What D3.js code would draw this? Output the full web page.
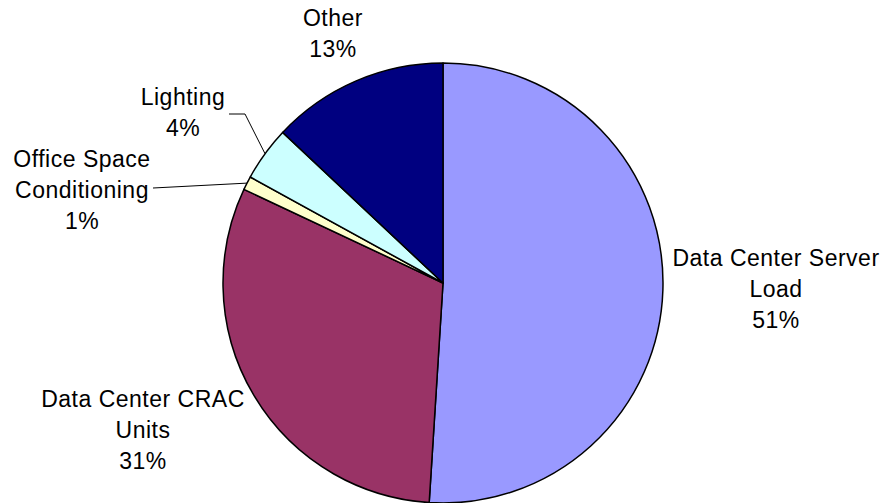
<!DOCTYPE html>
<html><head><meta charset="utf-8">
<script src="https://cdn.jsdelivr.net/npm/d3@7"></script>
<style>body{margin:0;background:#fff}svg{display:block}</style>
</head><body>
<svg id="c" width="884" height="503"></svg>
<script>
const categories = ["Data Center Server Load","Data Center CRAC Units","Office Space Conditioning","Lighting","Other"];
const values = [51,31,1,4,13];
const colors = ["#9999FF","#993366","#FFFFCC","#CCFFFF","#000080"];
const labelLines = [["Data Center Server","Load","51%"],["Data Center CRAC","Units","31%"],["Office Space","Conditioning","1%"],["Lighting","4%"],["Other","13%"]];
const labelPos = [[776,266],[143,407],[82,167],[183,105],[333,26]];

const svg = d3.select("#c");
const cx=443, cy=283, r=220;
const pie = d3.pie().sort(null).value(d=>d)(values);
const arc = d3.arc().innerRadius(0).outerRadius(r);
const g = svg.append("g").attr("transform",`translate(${cx},${cy})`);
g.selectAll("path").data(pie).join("path")
  .attr("d",arc).attr("fill",(d,i)=>colors[i])
  .attr("stroke","#000").attr("stroke-width",1.5).attr("stroke-linejoin","round");

function edgePt(i){const a=(pie[i].startAngle+pie[i].endAngle)/2;return [cx+r*Math.sin(a), cy-r*Math.cos(a)];}
const o=edgePt(2);
svg.append("path").attr("d",`M153,188L${o[0]},${o[1]}`).attr("fill","none").attr("stroke","#000").attr("stroke-width",1);
const l=edgePt(3);
svg.append("path").attr("d",`M229,114L245,114L${l[0]},${l[1]}`).attr("fill","none").attr("stroke","#000").attr("stroke-width",1);

labelLines.forEach((lines,i)=>{
  const t=svg.append("text").attr("text-anchor","middle")
    .attr("font-family","Liberation Sans, Arial, sans-serif").attr("font-size",23)
    .attr("letter-spacing","0.5px").attr("fill","#000");
  lines.forEach((s,j)=>t.append("tspan").attr("x",labelPos[i][0]).attr("y",labelPos[i][1]+j*31).text(s));
});
</script>
</body></html>
